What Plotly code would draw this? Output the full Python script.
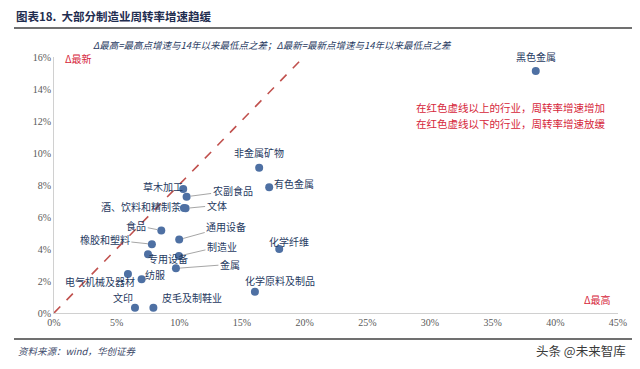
import plotly.graph_objects as go

industries = ["黑色金属", "非金属矿物", "有色金属", "化学纤维", "化学原料及制品",
              "草木加工", "农副食品", "文体", "酒、饮料和精制茶", "食品", "通用设备",
              "橡胶和塑料", "专用设备", "制造业", "金属", "纺服", "电气机械及器材",
              "文印", "皮毛及制鞋业"]
delta_high = [38.44, 16.37, 17.17, 17.97, 16.03,
              10.31, 10.58, 10.50, 10.37, 8.56, 9.99,
              7.81, 7.50, 9.97, 9.73, 6.99, 5.90,
              6.46, 7.93]
delta_latest = [15.13, 9.08, 7.86, 4.00, 1.33,
                7.75, 7.27, 6.54, 6.56, 5.16, 4.59,
                4.30, 3.67, 3.56, 2.79, 2.11, 2.43,
                0.33, 0.33]
diag_x = [0, 19.8]
diag_y = [0, 15.9]
x_ticks = [0, 5, 10, 15, 20, 25, 30, 35, 40, 45]
y_ticks = [0, 2, 4, 6, 8, 10, 12, 14, 16]
x_tick_labels = [f"{v}%" for v in x_ticks]
y_tick_labels = [f"{v}%" for v in y_ticks]

# label placement: (dx, dy up in px, leader line?)
label_pos = {
    "黑色金属": (0, 14, False),
    "非金属矿物": (0, 15, False),
    "有色金属": (25, 4, False),
    "化学纤维": (10, 8, False),
    "化学原料及制品": (25, 11, False),
    "草木加工": (-20, 3, False),
    "农副食品": (46, 6, True),
    "文体": (31, 3, True),
    "酒、饮料和精制茶": (-43, 2, False),
    "食品": (-25, 5, True),
    "通用设备": (47, 13, True),
    "橡胶和塑料": (-47, 5, True),
    "专用设备": (20, -4, False),
    "制造业": (43, 10, True),
    "金属": (54, 4, True),
    "纺服": (13, 5, False),
    "电气机械及器材": (-28, -7, False),
    "文印": (-12, 10, False),
    "皮毛及制鞋业": (39, 10, False),
}

navy = "#1f3a5f"
red = "#d6263a"
cjk = "Noto Sans CJK SC"

fig = go.Figure()
fig.add_trace(go.Scatter(x=diag_x, y=diag_y, mode="lines",
                         line=dict(color="#c0504d", width=1.6, dash="dash"),
                         hoverinfo="skip", showlegend=False))
fig.add_trace(go.Scatter(x=delta_high, y=delta_latest, mode="markers",
                         marker=dict(color="#4e70a3", size=8),
                         text=industries, showlegend=False))

annotations = []
for name, xv, yv in zip(industries, delta_high, delta_latest):
    dx, dy, leader = label_pos[name]
    if leader:
        annotations.append(dict(x=xv, y=yv, xref="x", yref="y", text=name,
                                showarrow=True, ax=dx, ay=-dy, arrowhead=0,
                                arrowwidth=1, arrowcolor="#a6a6a6", standoff=4,
                                font=dict(family=cjk, size=10, color=navy)))
    else:
        annotations.append(dict(x=xv, y=yv, xref="x", yref="y", text=name,
                                showarrow=False, xshift=dx, yshift=dy,
                                font=dict(family=cjk, size=10, color=navy)))

# page pixel -> paper coordinates (plot area spans page x 54..618, y 57..313)
def px_x(p):
    return (p - 54) / 564.0

def px_y(p):
    return (313 - p) / 256.0

annotations += [
    dict(x=px_x(14), y=px_y(16), xref="paper", yref="paper", xanchor="left", yanchor="middle",
         text="<b>图表18.  大部分制造业周转率增速趋缓</b>", showarrow=False,
         font=dict(family=cjk, size=11.5, color="#1f2d50")),
    dict(x=px_x(272), y=px_y(45), xref="paper", yref="paper", xanchor="center", yanchor="middle",
         text="<i>Δ最高=最高点增速与14年以来最低点之差；Δ最新=最新点增速与14年以来最低点之差</i>",
         showarrow=False, font=dict(family=cjk, size=9.5, color=navy)),
    dict(x=px_x(63), y=px_y(58), xref="paper", yref="paper", xanchor="left", yanchor="middle",
         text="Δ最新", showarrow=False, font=dict(family=cjk, size=10, color=red)),
    dict(x=px_x(613), y=px_y(299), xref="paper", yref="paper", xanchor="right", yanchor="middle",
         text="Δ最高", showarrow=False, font=dict(family=cjk, size=10, color=red)),
    dict(x=px_x(607), y=px_y(107), xref="paper", yref="paper", xanchor="right", yanchor="middle",
         text="在红色虚线以上的行业，周转率增速增加", showarrow=False,
         font=dict(family=cjk, size=10.5, color=red)),
    dict(x=px_x(607), y=px_y(123), xref="paper", yref="paper", xanchor="right", yanchor="middle",
         text="在红色虚线以下的行业，周转率增速放缓", showarrow=False,
         font=dict(family=cjk, size=10.5, color=red)),
    dict(x=px_x(16), y=px_y(351), xref="paper", yref="paper", xanchor="left", yanchor="middle",
         text="<i>资料来源：wind，华创证券</i>", showarrow=False,
         font=dict(family=cjk, size=9.5, color="#404a6a")),
    dict(x=px_x(628), y=px_y(350), xref="paper", yref="paper", xanchor="right", yanchor="middle",
         text="头条 @未来智库", showarrow=False,
         font=dict(family=cjk, size=12.5, color="#3a3a3a")),
]

shapes = [
    dict(type="line", xref="paper", yref="paper", x0=px_x(14), x1=px_x(640),
         y0=px_y(28), y1=px_y(28), line=dict(color="#404040", width=1.5)),
    dict(type="line", xref="paper", yref="paper", x0=px_x(14), x1=px_x(640),
         y0=px_y(339), y1=px_y(339), line=dict(color="#404040", width=1.5)),
]

# the page body adds an 8px margin, so the figure is drawn 8px smaller
fig.update_layout(
    width=632, height=361,
    margin=dict(l=46, r=22, t=49, b=56),
    paper_bgcolor="white", plot_bgcolor="white",
    annotations=annotations, shapes=shapes,
    showlegend=False,
    xaxis=dict(range=[0, 45], tickvals=x_ticks, ticktext=x_tick_labels, showgrid=False,
               zeroline=False, showline=True, linecolor="#d0d0d0", linewidth=1,
               tickfont=dict(family="Liberation Serif", size=10, color="#595959"),
               ticks="", fixedrange=True, automargin=False),
    yaxis=dict(range=[0, 16], tickvals=y_ticks, ticktext=y_tick_labels, showgrid=False,
               zeroline=False, showline=True, linecolor="#d0d0d0", linewidth=1,
               tickfont=dict(family="Liberation Serif", size=10, color="#595959"),
               ticks="", fixedrange=True, automargin=False),
)

fig.write_html("out.html")
